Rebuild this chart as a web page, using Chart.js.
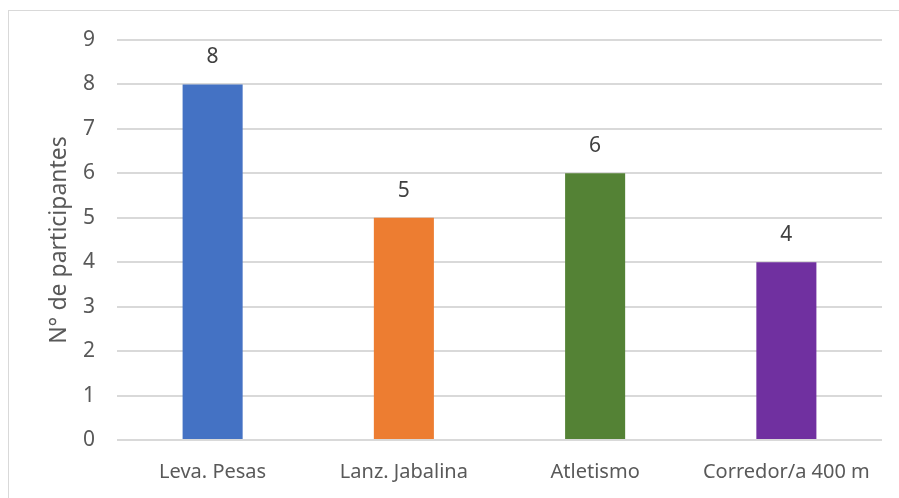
<!DOCTYPE html>
<html>
<head>
<meta charset="utf-8">
<script src="https://cdn.jsdelivr.net/npm/chart.js@4/dist/chart.umd.min.js"></script>
<style>
  body { margin: 0; background: #fff; }
  #wrap { position: relative; width: 899px; height: 498px; }
  #frame { position: absolute; left: 8px; top: 10px; width: 900px; height: 500px;
           border-left: 1px solid #d9d9d9; border-top: 1px solid #d9d9d9; }
</style>
</head>
<body>
<div id="wrap">
  <div id="frame"></div>
  <canvas id="sportsChart" width="899" height="498"></canvas>
</div>
<script>
var categories = ["Leva. Pesas", "Lanz. Jabalina", "Atletismo", "Corredor/a 400 m"];
var participants = [8, 5, 6, 4];
var barColors = ["#4472C4", "#ED7D31", "#548235", "#7030A0"];
var yTicks = [0, 1, 2, 3, 4, 5, 6, 7, 8, 9];

// numbers on top of the bars
var valueLabels = {
  id: "valueLabels",
  afterDatasetsDraw: function (chart) {
    var ctx = chart.ctx;
    var meta = chart.getDatasetMeta(0);
    ctx.save();
    ctx.font = "21px 'Noto Sans'";
    ctx.fillStyle = "#404040";
    ctx.textAlign = "center";
    ctx.textBaseline = "middle";
    meta.data.forEach(function (bar, i) {
      ctx.fillText(String(participants[i]), bar.x, bar.y - 27);
    });
    ctx.restore();
  }
};

new Chart("sportsChart", {
  type: "bar",
  data: {
    labels: categories,
    datasets: [{
      data: participants,
      backgroundColor: barColors,
      barPercentage: 0.314,
      categoryPercentage: 1.0
    }]
  },
  options: {
    responsive: false,
    animation: false,
    layout: { padding: { left: 0, right: 17, top: 40, bottom: 0 } },
    plugins: {
      legend: { display: false },
      tooltip: { enabled: false }
    },
    scales: {
      x: {
        afterFit: function (scale) { scale.height = 58; },
        grid: { display: false },
        border: { display: false },
        ticks: {
          color: "#595959",
          font: { family: "'Noto Sans'", size: 20 },
          padding: 12,
          maxRotation: 0
        }
      },
      y: {
        min: 0,
        max: 9,
        afterFit: function (scale) { scale.width = 117; },
        afterBuildTicks: function (scale) {
          scale.ticks = yTicks.map(function (v) { return { value: v }; });
        },
        grid: { color: "#d9d9d9", lineWidth: 2, drawTicks: false },
        border: { display: false },
        ticks: {
          color: "#595959",
          font: { family: "'Noto Sans'", size: 21 },
          padding: 22
        },
        title: {
          display: true,
          text: "N° de participantes",
          color: "#595959",
          font: { family: "'Noto Sans'", size: 23, weight: "normal" },
          padding: { top: 46, bottom: 0 }
        }
      }
    }
  },
  plugins: [valueLabels]
});
</script>
</body>
</html>
